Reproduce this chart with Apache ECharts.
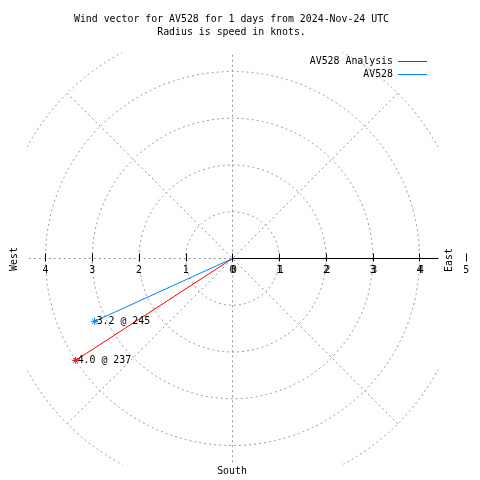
<!DOCTYPE html>
<html>
<head>
<meta charset="utf-8">
<script src="https://cdn.jsdelivr.net/npm/echarts@6/dist/echarts.min.js"></script>
<style>html,body{margin:0;padding:0;background:#fff}#c{width:480px;height:480px}</style>
</head>
<body>
<div id="c"></div>
<script>
// ---- data ----
const seriesNames = ['AV528 Analysis', 'AV528'];
const speeds = [4.0, 3.24];          // knots (radius)
const directions = [237, 245.5];     // degrees, compass
const pointLabels = ['4.0 @ 237', '3.2 @ 245'];
const radiusTicks = [0, 1, 2, 3, 4, 5];
const axisTickValues = [-4, -3, -2, -1, 0, 1, 2, 3, 4, 5];
const axisLabelValuesB = [0, 1, 2, 3, 4];
const titleLines = ['Wind vector for AV528 for 1 days from 2024-Nov-24 UTC', 'Radius is speed in knots.'];
const compass = { west: 'West', east: 'East', south: 'South' };

// ---- layout / style ----
const CX = 232.5, CY = 258.5, S = 46.75, HALF = 206;
const FONT = '"DejaVu Sans Mono", "Liberation Mono", monospace';
const FS = 9.9;
const GRID = '#999999';
const colors = ['#ff0000', '#0080ff'];
const STAR = 'path://M3,0L3,6M0,3L6,3M0.9,0.9L5.1,5.1M0.9,5.1L5.1,0.9';

const chart = echarts.init(document.getElementById('c'), null, { renderer: 'canvas' });

const dashed = { color: GRID, type: [2, 3], width: 1 };

const txt = (text, x, y, rot) => ({
  type: 'text', x: x, y: y, rotation: rot || 0, z: 20, silent: true,
  style: { text: text, align: 'center', verticalAlign: 'middle', fontFamily: FONT, fontSize: FS, fill: '#000' }
});

const gridBox = { left: CX - 4.5 * S, width: 9.5 * S, top: CY, height: 100 };

const option = {
  animation: false,
  backgroundColor: '#fff',
  polar: [
    { center: [CX, CY], radius: radiusTicks[radiusTicks.length - 1] * S },
    { center: [CX, CY], radius: HALF }
  ],
  angleAxis: [
    { polarIndex: 0, type: 'value', min: 0, max: 360, interval: 45, startAngle: 90, clockwise: true,
      axisLine: { show: false }, axisTick: { show: false }, axisLabel: { show: false },
      splitLine: { show: true, lineStyle: dashed }, z: 0 },
    { polarIndex: 1, type: 'value', min: 0, max: 360, startAngle: 0, clockwise: true,
      axisLine: { show: false }, axisTick: { show: false }, axisLabel: { show: false },
      splitLine: { show: false }, z: 0 }
  ],
  radiusAxis: [
    { polarIndex: 0, type: 'value', min: 0, max: radiusTicks[radiusTicks.length - 1], interval: 1,
      axisLine: { show: false }, axisTick: { show: false }, axisLabel: { show: false },
      splitLine: { show: true, lineStyle: dashed }, z: 0 },
    { polarIndex: 1, type: 'value', min: 0, max: HALF / S,
      axisLine: { show: true, lineStyle: { color: '#000', width: 1 } }, axisTick: { show: false },
      axisLabel: { show: false }, splitLine: { show: false }, z: 1 }
  ],
  grid: [Object.assign({}, gridBox), Object.assign({}, gridBox)],
  xAxis: [
    { type: 'value', gridIndex: 0, min: -4.5, max: 5, position: 'top', z: 20,
      axisLine: { show: false, onZero: false }, splitLine: { show: false },
      axisTick: { show: true, inside: false, length: 5, customValues: axisTickValues, lineStyle: { color: '#000', width: 1 } },
      axisLabel: { show: true, inside: true, margin: 7, customValues: axisTickValues,
        formatter: v => String(Math.abs(v)), fontFamily: FONT, fontSize: FS, color: '#000' } },
    { type: 'value', gridIndex: 1, min: -4.5, max: 5, position: 'top', z: 20,
      axisLine: { show: false, onZero: false }, splitLine: { show: false },
      axisTick: { show: true, inside: true, length: 3, customValues: axisTickValues, lineStyle: { color: '#000', width: 1 } },
      axisLabel: { show: true, inside: true, margin: 7, customValues: axisLabelValuesB, padding: [0, 0, 0, 3],
        formatter: v => String(Math.abs(v)), fontFamily: FONT, fontSize: FS, color: '#000' } }
  ],
  yAxis: [
    { type: 'value', gridIndex: 0, min: 0, max: 1, show: false },
    { type: 'value', gridIndex: 1, min: 0, max: 1, show: false }
  ],
  legend: seriesNames.map((n, i) => ({
    data: [n], right: 53, top: 56.5 + i * 13, orient: 'vertical', align: 'right', icon: 'rect',
    itemWidth: 29, itemHeight: 1, padding: 0, itemGap: 0, selectedMode: false, z: 20,
    itemStyle: { color: colors[i], borderColor: colors[i], borderWidth: 0 },
    textStyle: { fontFamily: FONT, fontSize: FS, color: '#000' }
  })),
  graphic: {
    elements: [
      { type: 'rect', silent: true, z: 5, shape: { x: 0, y: 0, width: 480, height: CY - HALF }, style: { fill: '#fff' } },
      { type: 'rect', silent: true, z: 5, shape: { x: 0, y: CY + HALF, width: 480, height: 480 - CY - HALF }, style: { fill: '#fff' } },
      { type: 'rect', silent: true, z: 5, shape: { x: 0, y: 0, width: CX - HALF, height: 480 }, style: { fill: '#fff' } },
      { type: 'rect', silent: true, z: 5, shape: { x: CX + HALF, y: 0, width: 480 - CX - HALF, height: 480 }, style: { fill: '#fff' } },
      txt(titleLines[0], 231.5, 19.5),
      txt(titleLines[1], 231.5, 32.5),
      txt(compass.west, 14.5, 259, Math.PI / 2),
      txt(compass.east, 449.5, 260, Math.PI / 2),
      txt(compass.south, 232, 471)
    ]
  },
  series: seriesNames.map((n, i) => ({
    type: 'line', name: n, coordinateSystem: 'polar', polarIndex: 0, z: 10,
    color: colors[i],
    lineStyle: { color: colors[i], width: 1 },
    itemStyle: { color: colors[i], borderColor: colors[i], borderWidth: 1 },
    label: { show: false },
    emphasis: { disabled: true },
    data: [
      { value: [0, directions[i]], symbol: 'none' },
      { value: [speeds[i], directions[i]], symbol: STAR, symbolSize: 7,
        label: { show: true, position: 'right', distance: -2, formatter: pointLabels[i],
          fontFamily: FONT, fontSize: FS, color: '#000' } }
    ]
  }))
};

chart.setOption(option);
</script>
</body>
</html>
